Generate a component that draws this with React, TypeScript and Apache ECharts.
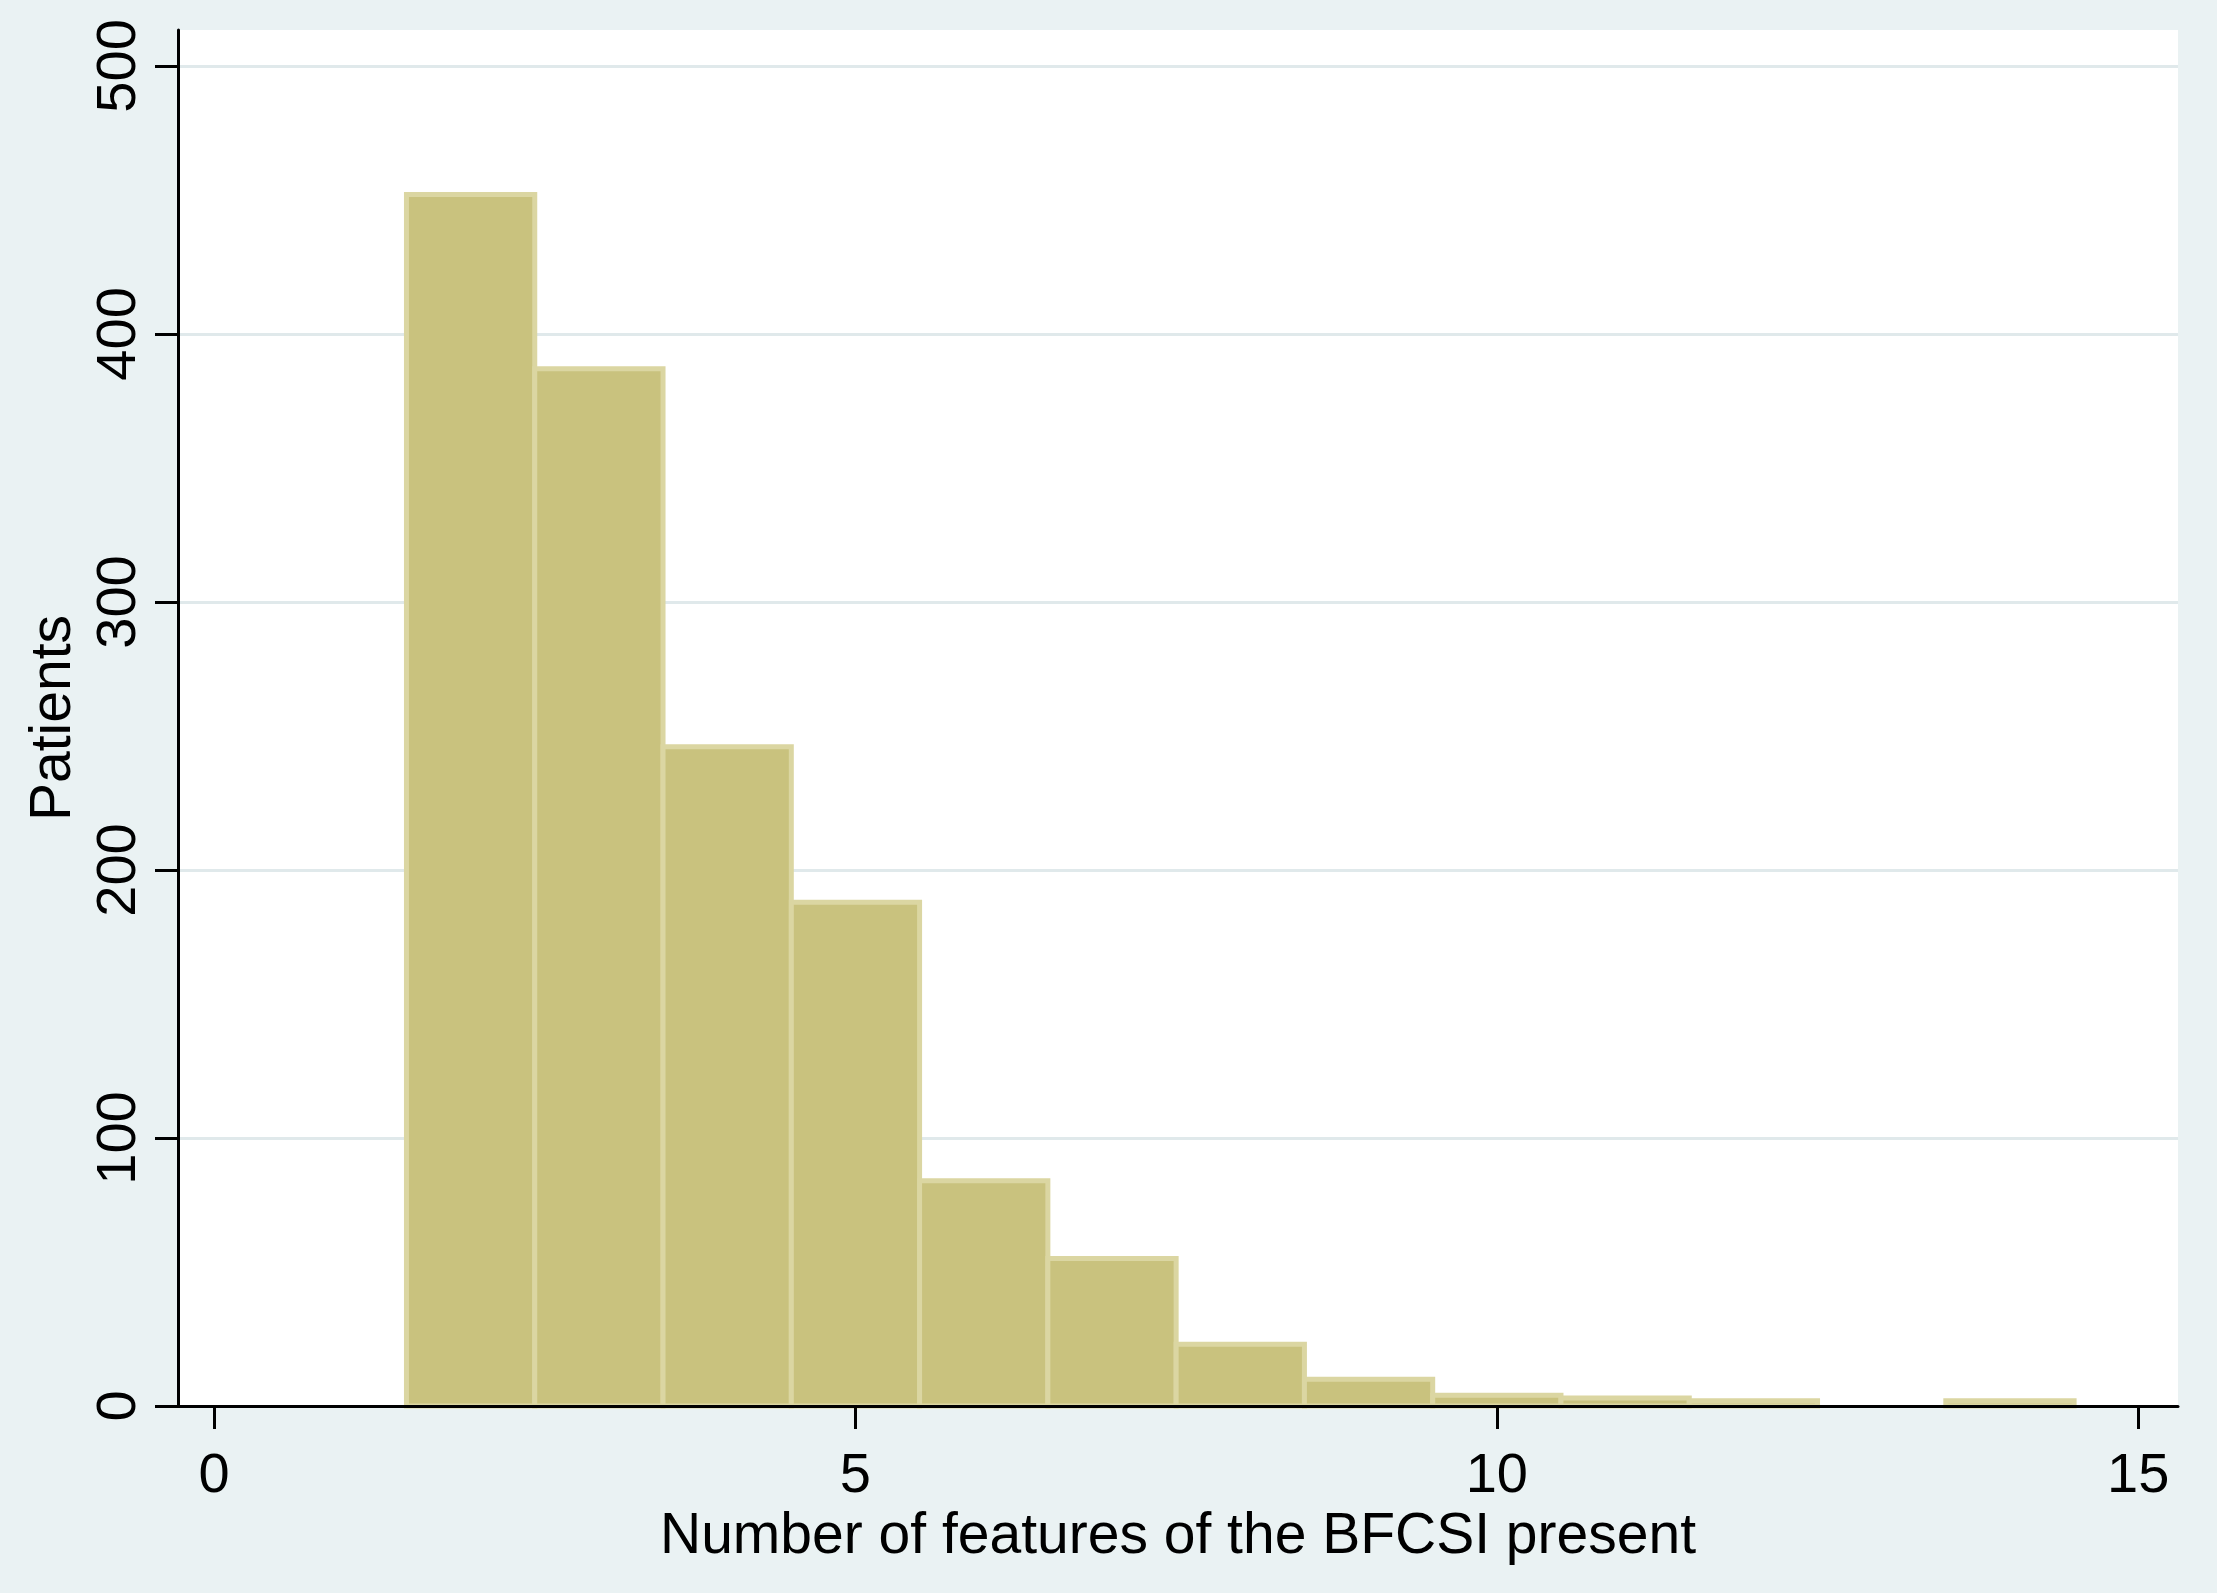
import React, { useEffect, useRef } from "react";
import * as echarts from "echarts";

// Histogram data: number of BFCSI features present (bin centre) and patient counts
const binCenters = [2, 3, 4, 5, 6, 7, 8, 9, 10, 11, 12, 13, 14];
const patients = [452, 387, 246, 188, 84, 55, 23, 10, 4, 3, 2, 0, 2];
const binWidth = 1;

const xTicks = [0, 5, 10, 15];
const yTicks = [0, 100, 200, 300, 400, 500];
const yGridLines = [100, 200, 300, 400, 500];

const xTitle = "Number of features of the BFCSI present";
const yTitle = "Patients";

const FONT = "Liberation Sans, Arial, sans-serif";

export default function App() {
  const ref = useRef<HTMLDivElement>(null);

  useEffect(() => {
    if (!ref.current) return;
    const chart = echarts.init(ref.current, undefined, { renderer: "svg" });

    const option: any = {
      animation: false,
      backgroundColor: "#EAF2F3",
      textStyle: { fontFamily: FONT },
      grid: {
        left: 178,
        top: 30,
        width: 2000,
        height: 1376,
        containLabel: false,
        outerBoundsMode: "none",
        show: true,
        backgroundColor: "#FFFFFF",
        borderWidth: 0,
      },
      xAxis: {
        type: "value",
        min: -0.281,
        max: 15.31,
        z: 10,
        name: xTitle,
        nameLocation: "middle",
        nameGap: 95,
        nameTextStyle: { fontSize: 57, color: "#000", fontFamily: FONT },
        axisLine: { show: true, onZero: false, lineStyle: { color: "#000", width: 3 } },
        axisTick: {
          show: true,
          length: 23,
          customValues: xTicks,
          lineStyle: { color: "#000", width: 3 },
        },
        axisLabel: {
          show: true,
          customValues: xTicks,
          fontSize: 56,
          color: "#000",
          fontFamily: FONT,
          margin: 38,
        },
        splitLine: { show: false },
      },
      yAxis: {
        type: "value",
        min: 0,
        max: 513.4,
        z: 10,
        name: yTitle,
        nameLocation: "middle",
        nameGap: 100,
        nameTextStyle: { fontSize: 57, color: "#000", fontFamily: FONT },
        axisLine: { show: true, onZero: false, lineStyle: { color: "#000", width: 3 } },
        axisTick: {
          show: true,
          length: 23,
          customValues: yTicks,
          lineStyle: { color: "#000", width: 3 },
        },
        axisLabel: {
          show: true,
          customValues: yTicks,
          rotate: 90,
          fontSize: 56,
          color: "#000",
          fontFamily: FONT,
          margin: 35,
        },
        splitLine: { show: false },
      },
      series: [
        {
          type: "line",
          data: [],
          z: 1,
          silent: true,
          markLine: {
            z: 1,
            silent: true,
            symbol: ["none", "none"],
            label: { show: false },
            lineStyle: { color: "#E0E9EB", width: 3, type: "solid" },
            data: yGridLines.map((v) => ({ yAxis: v })),
          },
        },
        {
          type: "custom",
          z: 3,
          data: binCenters.map((c, i) => [c, patients[i]]),
          renderItem: (params: any, api: any) => {
            const c = api.value(0);
            const v = api.value(1);
            if (!v) return null;
            const p0 = api.coord([c - binWidth / 2, v]);
            const p1 = api.coord([c + binWidth / 2, 0]);
            return {
              type: "rect",
              shape: { x: p0[0], y: p0[1], width: p1[0] - p0[0], height: p1[1] - p0[1] },
              style: { fill: "#C9C27E", stroke: "#DBD6A2", lineWidth: 5 },
            };
          },
        },
      ],
    };

    chart.setOption(option);
    return () => chart.dispose();
  }, []);

  return (
    <div
      ref={ref}
      style={{ position: "fixed", left: 0, top: 0, width: 2217, height: 1593 }}
    />
  );
}
